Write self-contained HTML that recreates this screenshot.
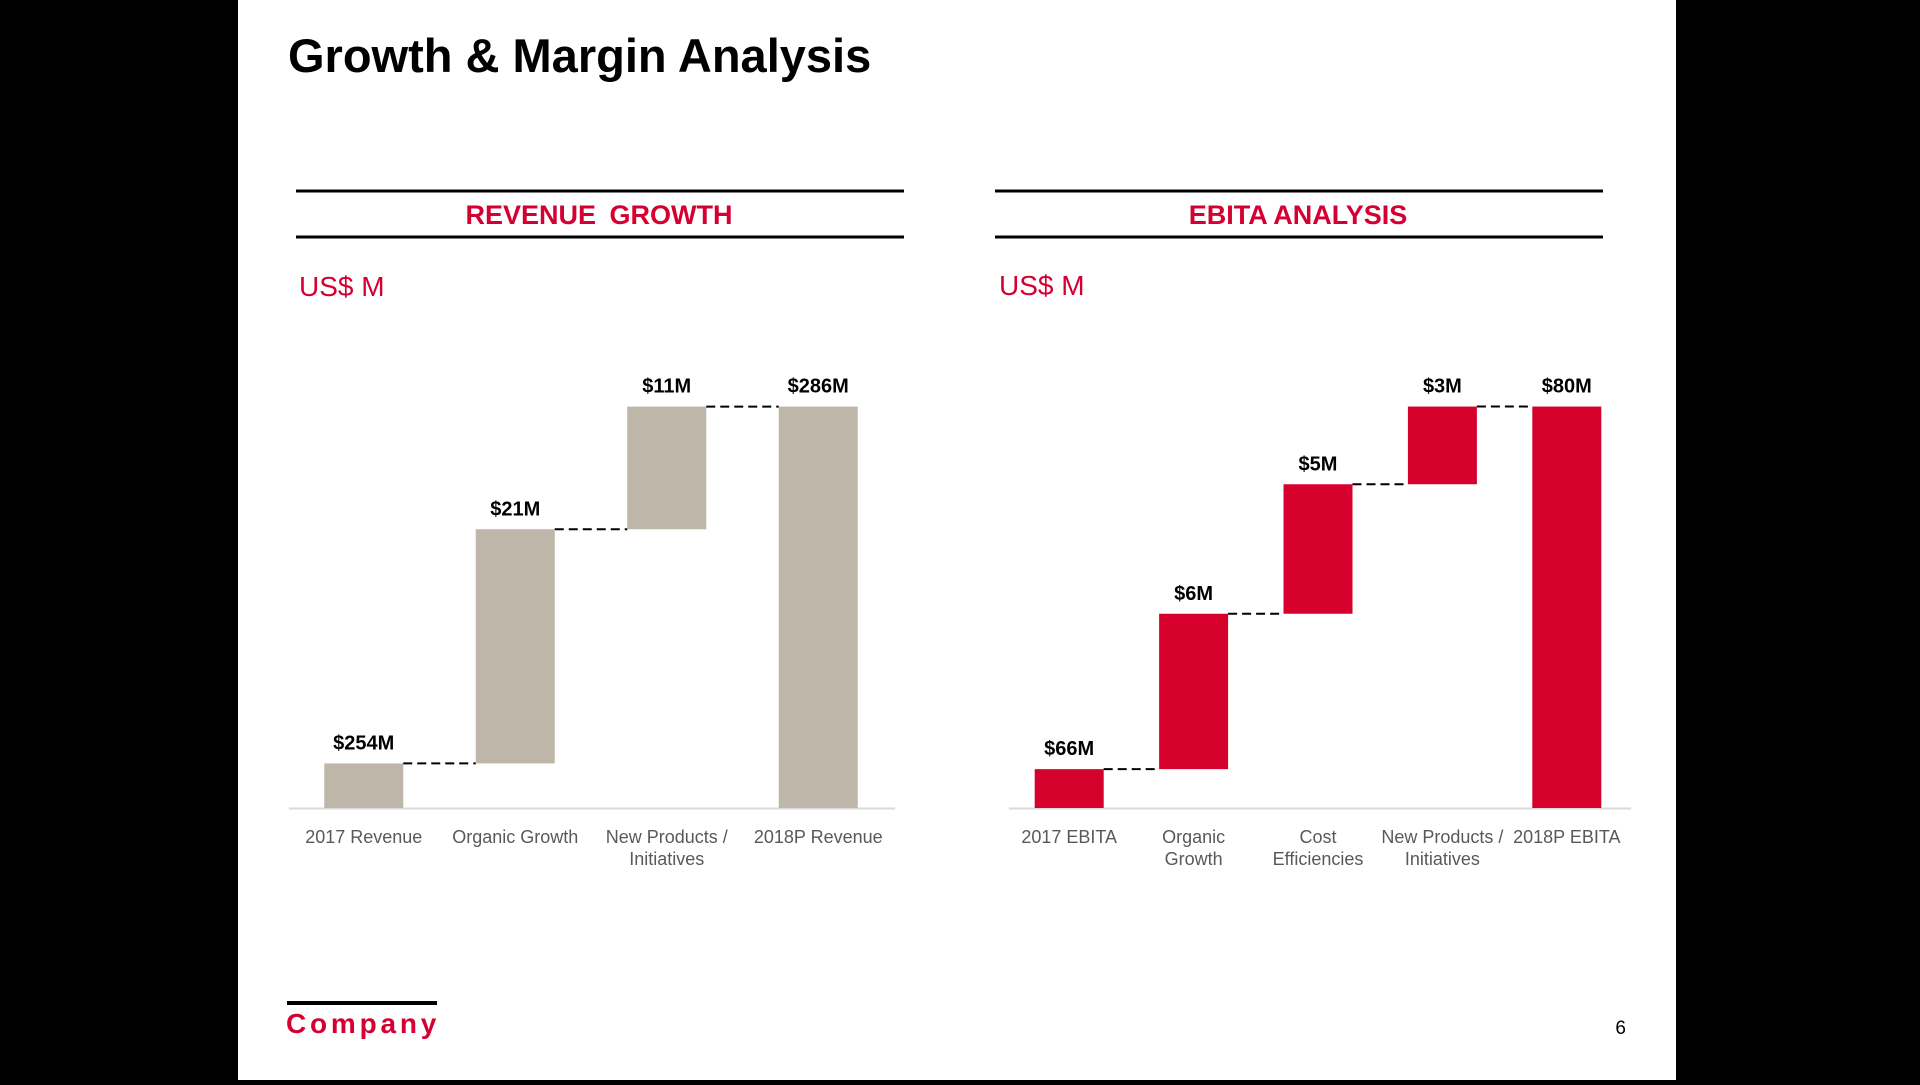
<!DOCTYPE html>
<html><head><meta charset="utf-8"><style>
html,body{margin:0;padding:0;background:#000;}
body{width:1920px;height:1080px;position:relative;overflow:hidden;font-family:"Liberation Sans",Arial,sans-serif;}
svg text{font-family:"Liberation Sans",Arial,sans-serif;}
</style></head><body>
<svg id="s" width="1920" height="1080" xmlns="http://www.w3.org/2000/svg">
<rect x="0" y="0" width="1920" height="1080" fill="#000"/>
<rect x="238" y="0" width="1438" height="1080" fill="#fff"/>
<text x="288" y="72" font-size="47" font-weight="bold" fill="#000">Growth &amp; Margin Analysis</text>

<g>
<line x1="296" y1="191" x2="904" y2="191" stroke="#000" stroke-width="3"/>
<line x1="296" y1="237" x2="904" y2="237" stroke="#000" stroke-width="3"/>
<text x="599" y="224" font-size="27" font-weight="bold" fill="#d50032" text-anchor="middle" word-spacing="6">REVENUE GROWTH</text>
<text x="299" y="296" font-size="28" fill="#d50032">US$ M</text>
</g>
<g>
<line x1="995" y1="191" x2="1603" y2="191" stroke="#000" stroke-width="3"/>
<line x1="995" y1="237" x2="1603" y2="237" stroke="#000" stroke-width="3"/>
<text x="1298" y="224" font-size="27" font-weight="bold" fill="#d50032" text-anchor="middle">EBITA ANALYSIS</text>
<text x="999" y="295" font-size="28" fill="#d50032">US$ M</text>
</g>

<g id="rev"></g>
<g id="eb"></g>

<line x1="287" y1="1003" x2="437" y2="1003" stroke="#000" stroke-width="4"/>
<text x="286" y="1033" font-size="28" font-weight="bold" fill="#d50032" letter-spacing="3.8">Company</text>
<text x="1626" y="1034" font-size="19" fill="#000" text-anchor="end">6</text>
</svg>
<script>
const revCategories=[["2017 Revenue"],["Organic Growth"],["New Products /","Initiatives"],["2018P Revenue"]];
const revValues=[254,21,11,286];
const revLabels=["$254M","$21M","$11M","$286M"];
const revTypes=["total","delta","delta","total"];
const ebCategories=[["2017 EBITA"],["Organic","Growth"],["Cost","Efficiencies"],["New Products /","Initiatives"],["2018P EBITA"]];
const ebValues=[66,6,5,3,80];
const ebLabels=["$66M","$6M","$5M","$3M","$80M"];
const ebTypes=["total","delta","delta","delta","total"];

const NS="http://www.w3.org/2000/svg";
function mk(tag,attrs,parent){const e=document.createElementNS(NS,tag);for(const k in attrs)e.setAttribute(k,attrs[k]);parent.appendChild(e);return e;}
function draw(g,cats,vals,labels,types,cfg){
  const y=v=>cfg.base-(v-cfg.min)*cfg.ppu;
  const n=cats.length;
  const step=(cfg.x1-cfg.x0)/n;
  const ax=mk('line',{x1:cfg.ax0,y1:cfg.base+0.5,x2:cfg.ax1,y2:cfg.base+0.5,stroke:'#d9d9d9','stroke-width':2},g);
  
  
  let run=0;let prevRight=null,prevTop=null;
  for(let i=0;i<n;i++){
    let lo,hi;
    if(types[i]==='total'){lo=cfg.min;hi=vals[i];run=vals[i];}
    else{lo=run;hi=run+vals[i];run=hi;}
    const cx=cfg.x0+step*(i+0.5);
    const bx=cx-cfg.bw/2;
    if(prevRight!==null){
      const c=mk('line',{x1:prevRight,y1:prevTop,x2:bx,y2:prevTop,stroke:'#000','stroke-width':2,'stroke-dasharray':'9,5'},g);
      
      
    }
    const r=mk('rect',{x:bx,y:y(hi),width:cfg.bw,height:y(lo)-y(hi),fill:cfg.color},g);
    
    
    const t=mk('text',{x:cx,y:y(hi)-14,'font-size':20,'font-weight':'bold','text-anchor':'middle',fill:'#000'},g);
    t.textContent=labels[i];
    
    
    const ct=mk('text',{x:cx,y:cfg.base+35,'font-size':18,'text-anchor':'middle',fill:'#595959'},g);
    
    
    cats[i].forEach((ln,j)=>{const ts=mk('tspan',{x:cx,dy:j?22:0},ct);ts.textContent=ln;});
    prevRight=bx+cfg.bw;prevTop=y(hi);
  }
}
draw(document.getElementById('rev'),revCategories,revValues,revLabels,revTypes,
  {base:808,min:250,ppu:11.15,x0:288,x1:894,bw:79,color:'#beb6a9',ax0:289,ax1:895});
draw(document.getElementById('eb'),ebCategories,ebValues,ebLabels,ebTypes,
  {base:808,min:64.5,ppu:25.9,x0:1007,x1:1629,bw:69,color:'#d6002d',ax0:1009,ax1:1631});
</script>
</body></html>
